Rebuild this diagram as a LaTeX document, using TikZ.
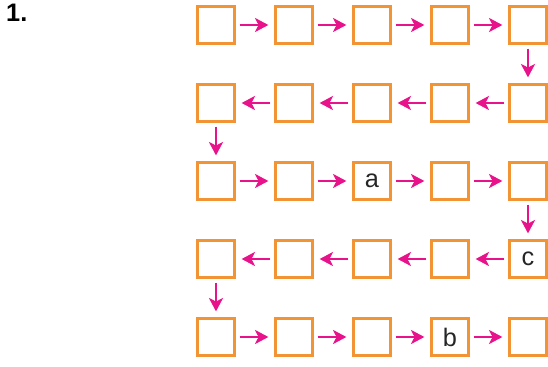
\documentclass[tikz,border=0pt]{standalone}
\usepackage{fontspec}
\setmainfont{Liberation Sans}
\usetikzlibrary{arrows.meta}
\definecolor{boxorange}{RGB}{242,148,52}
\definecolor{arrowpink}{RGB}{232,18,138}

\begin{document}
\begin{tikzpicture}[>={Stealth[length=9.5pt,width=10pt,inset=2.5pt]},every node/.style={font=\fontsize{18}{20}\selectfont}]
\tikzset{cell/.style={draw=boxorange,line width=2pt,minimum size=0.93cm,inner sep=0pt},
  link/.style={->,draw=arrowpink,line width=1.4pt,shorten >=4pt,shorten <=2.5pt}}
\useasboundingbox (0,0) rectangle (13.7,-9.175);
\node[font=\fontsize{18}{20}\selectfont\bfseries] (num) at (0.42,-0.33) {1.};
% grid of cells
\foreach \r in {1,...,5}
  \foreach \c in {1,...,5}
    \node[cell] (n\r\c) at ({5.4+1.95*(\c-1)},{-0.625-1.95*(\r-1)}) {};
\node[text=black!85] (la) at (n33) {a};
\node[text=black!85] (lc) at (n45) {c};
\node[text=black!85] (lb) at (n54) {b};
% snake path
\foreach \r in {1,3,5}
  \foreach \c [count=\d from 2] in {1,...,4}
    \draw[link] (n\r\c) -- (n\r\d);
\foreach \r in {2,4}
  \foreach \c [count=\d from 2] in {1,...,4}
    \draw[link] (n\r\d) -- (n\r\c);
\draw[link] (n15) -- (n25);
\draw[link] (n21) -- (n31);
\draw[link] (n35) -- (n45);
\draw[link] (n41) -- (n51);
\end{tikzpicture}
\end{document}
